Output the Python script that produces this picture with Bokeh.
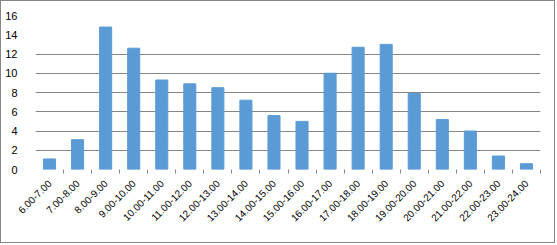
from bokeh.plotting import figure
from bokeh.models import Range1d, FixedTicker, ColumnDataSource
from bokeh.embed import file_html
from bokeh.resources import INLINE
import math

categories = ["6.00-7.00", "7.00-8.00", "8.00-9.00", "9.00-10.00", "10.00-11.00",
              "11.00-12.00", "12.00-13.00", "13.00-14.00", "14.00-15.00", "15.00-16.00",
              "16.00-17.00", "17.00-18.00", "18.00-19.00", "19.00-20.00", "20.00-21.00",
              "21.00-22.00", "22.00-23.00", "23.00-24.00"]
values = [1.1, 3.1, 14.8, 12.6, 9.3, 8.9, 8.5, 7.2, 5.6, 5.0,
          10.0, 12.7, 13.0, 7.9, 5.2, 4.0, 1.4, 0.6]
y_ticks = [0, 2, 4, 6, 8, 10, 12, 14, 16]
grid_ticks = [2, 4, 6, 8, 10, 12]

n = len(categories)
centers = [i + 0.5 for i in range(n)]
source = ColumnDataSource(dict(x=centers, top=values, label=categories))

p = figure(width=555, height=243, output_backend="svg", toolbar_location=None,
           x_range=Range1d(0, n), y_range=Range1d(0, 16),
           min_border_left=34, min_border_right=16, min_border_top=14, min_border_bottom=75,
           styles={"border": "1px solid #868686"})
p.outline_line_color = None
p.background_fill_color = "white"
p.border_fill_color = "white"

p.vbar(x="x", top="top", width=0.43, source=source, color="#5B9BD5")

font = "Liberation Sans"
# x axis
p.xaxis.ticker = FixedTicker(ticks=centers, minor_ticks=list(range(1, n + 1)))
p.xaxis.major_label_overrides = {c: l for c, l in zip(centers, categories)}
p.xaxis.major_label_orientation = math.pi / 4
p.xaxis.major_tick_line_color = None
p.xaxis.axis_line_color = None
p.xaxis.minor_tick_line_color = "#868686"
p.xaxis.minor_tick_out = 4
p.xaxis.minor_tick_in = 0
p.xaxis.major_label_text_font = font
p.xaxis.major_label_text_font_size = "10px"
p.xaxis.major_label_text_color = "black"
p.xaxis.major_label_standoff = 6

# y axis
p.yaxis.ticker = FixedTicker(ticks=y_ticks)
p.yaxis.major_tick_line_color = None
p.yaxis.minor_tick_line_color = None
p.yaxis.axis_line_color = None
p.yaxis.major_label_text_font = font
p.yaxis.major_label_text_font_size = "11px"
p.yaxis.major_label_text_color = "black"
p.yaxis.major_label_standoff = 12

p.xgrid.grid_line_color = None
p.ygrid.ticker = FixedTicker(ticks=grid_ticks)
p.ygrid.grid_line_color = "#868686"
p.ygrid.grid_line_width = 1

open("out.html", "w").write(file_html(p, INLINE))
